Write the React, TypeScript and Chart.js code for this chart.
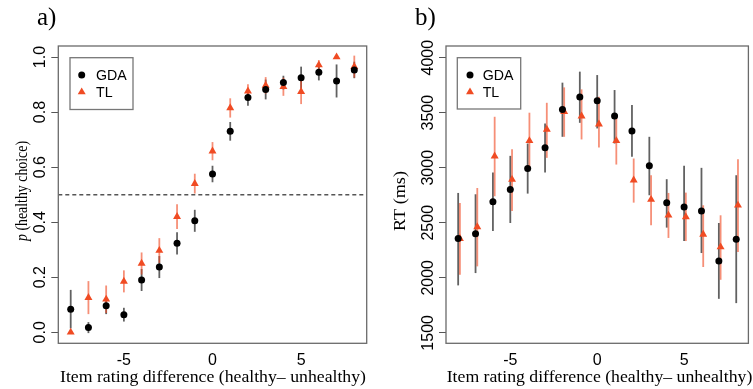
import React, { useEffect, useRef } from 'react';
import { Chart, registerables } from 'chart.js';

Chart.register(...registerables);

// ---------- data ----------
const ratingDiff = [-8, -7, -6, -5, -4, -3, -2, -1, 0, 1, 2, 3, 4, 5, 6, 7, 8];
const xTickValues = [-5, 0, 5];

const pTickValues = [0, 0.2, 0.4, 0.6, 0.8, 1.0];
const pTickLabels = ['0.0', '0.2', '0.4', '0.6', '0.8', '1.0'];

const pGDA = [0.084, 0.017, 0.096, 0.064, 0.19, 0.237, 0.323, 0.405, 0.575, 0.73, 0.853, 0.882, 0.907, 0.925, 0.945, 0.913, 0.953];
const pGDAErr = [0.07, 0.02, 0.03, 0.025, 0.04, 0.04, 0.04, 0.04, 0.03, 0.034, 0.03, 0.036, 0.025, 0.04, 0.03, 0.06, 0.03];
const pTL = [0.0, 0.126, 0.12, 0.185, 0.25, 0.297, 0.42, 0.54, 0.658, 0.815, 0.876, 0.897, 0.892, 0.874, 0.971, 1.0, 0.965];
const pTLErr = [0, 0.06, 0.05, 0.04, 0.04, 0.045, 0.045, 0.036, 0.033, 0.035, 0.025, 0.03, 0.033, 0.045, 0.018, 0, 0.04];

const rtTickValues = [1500, 2000, 2500, 3000, 3500, 4000];
const rtTickLabels = ['1500', '2000', '2500', '3000', '3500', '4000'];

const rtGDA = [2356, 2401, 2692, 2802, 2993, 3181, 3530, 3642, 3609, 3469, 3333, 3017, 2683, 2644, 2607, 2152, 2350];
const rtGDALow = [1931, 2043, 2425, 2498, 2765, 2956, 3281, 3408, 3357, 3220, 3099, 2750, 2456, 2334, 2225, 1809, 1770];
const rtGDAHigh = [2771, 2759, 2956, 3108, 3220, 3402, 3773, 3873, 3842, 3706, 3569, 3281, 2896, 3017, 2999, 2498, 2932];
const rtTL = [2356, 2462, 3105, 2893, 3245, 3348, 3509, 3469, 3396, 3245, 2887, 2711, 2568, 2553, 2395, 2280, 2659];
const rtTLLow = [2028, 2104, 2741, 2607, 2978, 3090, 3281, 3257, 3184, 3029, 2683, 2477, 2362, 2334, 2098, 1982, 2234];
const rtTLHigh = [2680, 2816, 3463, 3169, 3500, 3590, 3730, 3712, 3645, 3478, 3084, 2932, 2771, 2774, 2659, 2568, 3078];

const seriesNames = ['GDA', 'TL'];

// ---------- style ----------
const RED = '#F04B23';
const RED_BAR = 'rgba(240,75,35,0.62)';
const BLACK = '#000000';
const BLACK_BAR = 'rgba(0,0,0,0.62)';
const SANS = '"Liberation Sans", Arial, sans-serif';
const SERIF = '"Liberation Serif", "Times New Roman", serif';
const TL_DODGE_B = 0.1;
const DOT_R = 3.5;
const TRI_R = 4.6;

type Part = { text: string; italic: boolean };

type PanelSpec = {
  width: number;
  left: number;
  padRight: number;
  yMin: number;
  yMax: number;
  yTicks: number[];
  yLabels: string[];
  gda: number[];
  gdaLow: number[];
  gdaHigh: number[];
  tl: number[];
  tlLow: number[];
  tlHigh: number[];
  tlDodge: number;
  refLine: number | null;
  label: string;
  labelX: number;
  yTickBaseX: number;
  yTitleParts: Part[];
  yTitleSize: number;
  yTitleBaseX: number;
  yTitleCenterY: number;
  yTitleLen: number;
  xTitleCenterX: number;
  xTitleLen: number;
  legend: { x0: number; x1: number; y0: number; y1: number; symX: number; textX: number };
};

const CHART_TOP = 46;
const CHART_BOTTOM = 343.3;
const H = 389;

function partsWidth(ctx: CanvasRenderingContext2D, parts: Part[], size: number) {
  let w = 0;
  for (const p of parts) {
    ctx.font = `${p.italic ? 'italic ' : ''}${size}px ${SERIF}`;
    w += ctx.measureText(p.text).width;
  }
  return w;
}

// draws text centred at (cx, cy) with given size, horizontally scaled to the target length
function drawParts(ctx: CanvasRenderingContext2D, parts: Part[], size: number, cx: number, cy: number, target: number) {
  const natural = partsWidth(ctx, parts, size);
  const k = target / natural;
  ctx.save();
  ctx.translate(cx, cy);
  ctx.scale(k, 1);
  let x = -natural / 2;
  ctx.textAlign = 'left';
  ctx.textBaseline = 'alphabetic';
  for (const p of parts) {
    ctx.font = `${p.italic ? 'italic ' : ''}${size}px ${SERIF}`;
    ctx.fillText(p.text, x, 0);
    x += ctx.measureText(p.text).width;
  }
  ctx.restore();
}

function makeChart(canvas: HTMLCanvasElement, s: PanelSpec) {
  const gdaPts = ratingDiff.map((x, i) => ({ x, y: s.gda[i] }));
  const tlPts = ratingDiff.map((x, i) => ({ x: x + s.tlDodge, y: s.tl[i] }));

  const panelPlugin = {
    id: 'panelPlugin',
    beforeDatasetsDraw(chart: any) {
      const ctx: CanvasRenderingContext2D = chart.ctx;
      const xs = chart.scales.x;
      const ys = chart.scales.y;
      const area = chart.chartArea;
      ctx.save();
      if (s.refLine !== null) {
        ctx.strokeStyle = '#555';
        ctx.lineWidth = 1.5;
        ctx.setLineDash([4, 3]);
        const y = ys.getPixelForValue(s.refLine);
        ctx.beginPath();
        ctx.moveTo(area.left, y);
        ctx.lineTo(area.right, y);
        ctx.stroke();
        ctx.setLineDash([]);
      }
      ctx.lineWidth = 1.8;
      const bars = (pts: { x: number }[], lo: number[], hi: number[], color: string) => {
        ctx.strokeStyle = color;
        pts.forEach((p, i) => {
          if (hi[i] === lo[i]) return;
          const px = xs.getPixelForValue(p.x);
          ctx.beginPath();
          ctx.moveTo(px, ys.getPixelForValue(lo[i]));
          ctx.lineTo(px, ys.getPixelForValue(hi[i]));
          ctx.stroke();
        });
      };
      bars(gdaPts, s.gdaLow, s.gdaHigh, BLACK_BAR);
      bars(tlPts, s.tlLow, s.tlHigh, RED_BAR);
      ctx.restore();
    },
    afterDraw(chart: any) {
      const ctx: CanvasRenderingContext2D = chart.ctx;
      const ys = chart.scales.y;
      const area = chart.chartArea;
      ctx.save();
      // box
      ctx.strokeStyle = '#6a6a6a';
      ctx.lineWidth = 1.3;
      ctx.strokeRect(area.left, area.top, area.right - area.left, area.bottom - area.top);
      // y tick labels (rotated, as in R)
      ctx.fillStyle = '#000';
      ctx.font = `16px ${SANS}`;
      ctx.textAlign = 'center';
      ctx.textBaseline = 'alphabetic';
      s.yTicks.forEach((v, i) => {
        const y = ys.getPixelForValue(v);
        ctx.save();
        ctx.translate(s.yTickBaseX, y);
        ctx.rotate(-Math.PI / 2);
        ctx.fillText(s.yLabels[i], 0, 0);
        ctx.restore();
      });
      // x title
      const xParts: Part[] = [{ text: 'Item rating difference (healthy\u2013 unhealthy)', italic: false }];
      drawParts(ctx, xParts, 17.5, s.xTitleCenterX, 382, s.xTitleLen);
      // y title
      ctx.save();
      ctx.translate(s.yTitleBaseX, s.yTitleCenterY);
      ctx.rotate(-Math.PI / 2);
      drawParts(ctx, s.yTitleParts, s.yTitleSize, 0, 0, s.yTitleLen);
      ctx.restore();
      // panel label
      ctx.font = `25px ${SERIF}`;
      ctx.textAlign = 'left';
      ctx.fillText(s.label, s.labelX, 25);
      // legend
      const L = s.legend;
      ctx.strokeStyle = '#777';
      ctx.lineWidth = 1.3;
      ctx.strokeRect(L.x0, L.y0, L.x1 - L.x0, L.y1 - L.y0);
      ctx.fillStyle = BLACK;
      ctx.beginPath();
      ctx.arc(L.symX, 75, DOT_R, 0, Math.PI * 2);
      ctx.fill();
      ctx.fillStyle = RED;
      const r = TRI_R;
      const cy = 92;
      ctx.beginPath();
      ctx.moveTo(L.symX, cy - r);
      ctx.lineTo(L.symX + 0.866 * r, cy + r / 2);
      ctx.lineTo(L.symX - 0.866 * r, cy + r / 2);
      ctx.closePath();
      ctx.fill();
      ctx.fillStyle = '#000';
      ctx.font = `14.2px ${SANS}`;
      ctx.textAlign = 'left';
      ctx.fillText(seriesNames[0], L.textX, 80);
      ctx.fillText(seriesNames[1], L.textX, 97);
      ctx.restore();
    },
  };

  return new Chart(canvas, {
    type: 'scatter',
    data: {
      datasets: [
        {
          label: seriesNames[0],
          data: gdaPts,
          pointStyle: 'circle',
          pointRadius: DOT_R,
          pointBorderWidth: 0,
          backgroundColor: BLACK,
          borderColor: BLACK,
        },
        {
          label: seriesNames[1],
          data: tlPts,
          pointStyle: 'triangle',
          pointRadius: TRI_R,
          pointBorderWidth: 0,
          backgroundColor: RED,
          borderColor: RED,
        },
      ],
    },
    options: {
      animation: false,
      responsive: false,
      events: [],
      layout: { padding: { top: CHART_TOP, left: 0, right: s.padRight, bottom: 0 } },
      plugins: { legend: { display: false }, tooltip: { enabled: false } },
      scales: {
        x: {
          type: 'linear',
          min: -8.7,
          max: 8.7,
          afterBuildTicks: (sc: any) => {
            sc.ticks = xTickValues.map((v) => ({ value: v }));
          },
          afterFit: (sc: any) => {
            sc.height = H - CHART_BOTTOM;
          },
          grid: { display: false },
          border: { display: false },
          ticks: {
            font: { family: SANS, size: 16 },
            color: '#000',
            padding: 0,
            maxRotation: 0,
            autoSkip: false,
            callback: (v: any) => String(v),
          },
        },
        y: {
          type: 'linear',
          min: s.yMin,
          max: s.yMax,
          afterBuildTicks: (sc: any) => {
            sc.ticks = s.yTicks.map((v) => ({ value: v }));
          },
          afterFit: (sc: any) => {
            sc.width = s.left;
          },
          grid: { drawOnChartArea: false, drawTicks: true, tickLength: 7, color: '#555', lineWidth: 1 },
          border: { display: false },
          ticks: { display: false },
        },
      },
    },
    plugins: [panelPlugin],
  } as any);
}

const panelA: PanelSpec = {
  width: 376,
  left: 58.3,
  padRight: 376 - 366.7,
  yMin: -0.04,
  yMax: 1.04,
  yTicks: pTickValues,
  yLabels: pTickLabels,
  gda: pGDA,
  gdaLow: pGDA.map((v, i) => v - pGDAErr[i]),
  gdaHigh: pGDA.map((v, i) => v + pGDAErr[i]),
  tl: pTL,
  tlLow: pTL.map((v, i) => v - pTLErr[i]),
  tlHigh: pTL.map((v, i) => v + pTLErr[i]),
  tlDodge: 0,
  refLine: 0.5,
  label: 'a)',
  labelX: 37,
  yTickBaseX: 45,
  yTitleParts: [
    { text: 'p', italic: true },
    { text: ' (healthy choice)', italic: false },
  ],
  yTitleSize: 16.5,
  yTitleBaseX: 27,
  yTitleCenterY: 191,
  yTitleLen: 100,
  xTitleCenterX: 213,
  xTitleLen: 306,
  legend: { x0: 70, x1: 133, y0: 57.7, y1: 109.5, symX: 81.7, textX: 96 },
};

const panelB: PanelSpec = {
  width: 377,
  left: 70,
  padRight: 1,
  yMin: 1405,
  yMax: 4106,
  yTicks: rtTickValues,
  yLabels: rtTickLabels,
  gda: rtGDA,
  gdaLow: rtGDALow,
  gdaHigh: rtGDAHigh,
  tl: rtTL,
  tlLow: rtTLLow,
  tlHigh: rtTLHigh,
  tlDodge: TL_DODGE_B,
  refLine: null,
  label: 'b)',
  labelX: 39,
  yTickBaseX: 56.7,
  yTitleParts: [{ text: 'RT (ms)', italic: false }],
  yTitleSize: 17.5,
  yTitleBaseX: 29,
  yTitleCenterY: 201,
  yTitleLen: 60,
  xTitleCenterX: 223.5,
  xTitleLen: 305.6,
  legend: { x0: 81.3, x1: 144.7, y0: 57.7, y1: 109, symX: 94, textX: 106.7 },
};

export default function App() {
  const refA = useRef<HTMLCanvasElement | null>(null);
  const refB = useRef<HTMLCanvasElement | null>(null);

  useEffect(() => {
    const a = refA.current ? makeChart(refA.current, panelA) : null;
    const b = refB.current ? makeChart(refB.current, panelB) : null;
    return () => {
      a?.destroy();
      b?.destroy();
    };
  }, []);

  return (
    <div style={{ position: 'fixed', left: 0, top: 0, width: 753, height: H, background: '#fff', overflow: 'hidden' }}>
      <canvas
        ref={refA}
        width={panelA.width}
        height={H}
        style={{ position: 'absolute', left: 0, top: 0, width: panelA.width, height: H, display: 'block' }}
      />
      <canvas
        ref={refB}
        width={panelB.width}
        height={H}
        style={{ position: 'absolute', left: 376, top: 0, width: panelB.width, height: H, display: 'block' }}
      />
    </div>
  );
}
